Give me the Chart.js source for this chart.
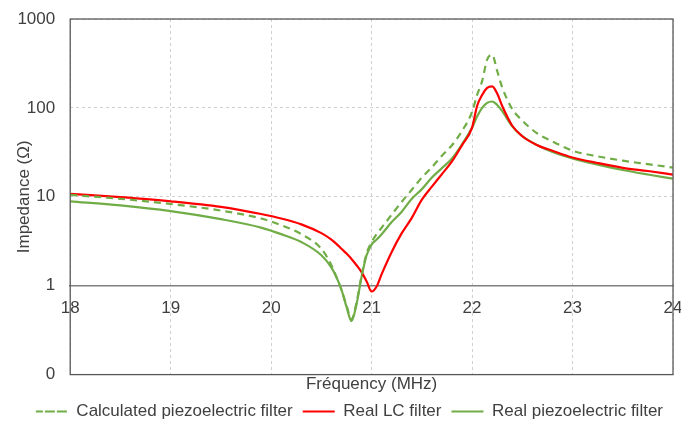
<!DOCTYPE html>
<html>
<head>
<meta charset="utf-8">
<script src="https://cdn.jsdelivr.net/npm/chart.js@4/dist/chart.umd.min.js"></script>
<style>
  html, body { margin: 0; padding: 0; background: #fff; }
  #wrap { width: 681px; height: 423px; }
</style>
</head>
<body>
<div id="wrap"><canvas id="impedanceChart"></canvas></div>
<script>
// Frequency points (MHz) shared by the three curves
const freq = [18, 18.5, 19, 19.5, 19.9, 20.1, 20.3, 20.5, 20.6, 20.65, 20.7, 20.75, 20.8, 20.85, 20.9, 20.95,
  21, 21.05, 21.1, 21.2, 21.3, 21.4, 21.5, 21.6, 21.7, 21.8, 21.9, 22, 22.05, 22.1, 22.15, 22.2, 22.25,
  22.3, 22.4, 22.5, 22.65, 22.8, 23, 23.25, 23.5, 23.75, 24];

// Impedance (ohm)
const calcPiezo = [10.5, 9.5, 8.3, 7.0, 5.7, 4.8, 3.8, 2.6, 1.7, 1.25, 0.9, 0.6, 0.42, 0.65, 1.3, 2.3,
  3.1, 3.8, 4.5, 6.3, 8.8, 12, 16.5, 21.5, 29, 38, 55, 90, 140, 200, 350, 395, 260,
  170, 97, 72, 51.5, 42, 33, 28.5, 25.5, 23.3, 21.3];
const realLC = [10.8, 9.9, 8.9, 7.7, 6.4, 5.7, 4.9, 3.9, 3.3, 2.95, 2.6, 2.3, 2.0, 1.7, 1.42, 1.12,
  0.86, 0.98, 1.35, 2.4, 3.9, 5.8, 9.3, 13, 18, 25, 38, 60, 105, 140, 168, 175, 145,
  105, 63, 48, 38, 33, 27.7, 24, 21.2, 19.5, 17.8];
const realPiezo = [8.9, 8.0, 6.9, 5.6, 4.5, 3.8, 3.1, 2.2, 1.6, 1.25, 0.9, 0.58, 0.4, 0.62, 1.25, 2.2,
  2.9, 3.3, 3.8, 5.2, 6.8, 9.5, 12.2, 16.5, 21, 27, 39, 60, 80, 100, 114, 118, 108,
  92, 62, 48, 38, 32, 27, 23, 20, 17.8, 16];

const yTicks = [0.1, 1, 10, 100, 1000];

function toPoints(values) {
    return freq.map((f, i) => ({ x: f, y: values[i] }));
}

const textColor = '#404040';
const font = { family: '"Liberation Sans", Arial, sans-serif', size: 17 };

// plot frame around the chart area
const frame = {
    id: 'frame',
    afterDatasetsDraw(chart) {
        const a = chart.chartArea;
        const c = chart.ctx;
        c.save();
        c.strokeStyle = '#595959';
        c.lineWidth = 1.3;
        c.strokeRect(a.left, a.top, a.right - a.left, a.bottom - a.top);
        c.restore();
    }
};

new Chart(document.getElementById('impedanceChart'), {
    type: 'line',
    data: {
        datasets: [
            {
                label: 'Calculated piezoelectric filter',
                data: toPoints(calcPiezo),
                borderColor: '#70AD47',
                backgroundColor: '#70AD47',
                borderWidth: 2.2,
                borderDash: [7, 5],
                pointRadius: 0,
                cubicInterpolationMode: 'monotone'
            },
            {
                label: 'Real LC filter',
                data: toPoints(realLC),
                borderColor: '#FF0000',
                backgroundColor: '#FF0000',
                borderWidth: 2.2,
                pointRadius: 0,
                cubicInterpolationMode: 'monotone'
            },
            {
                label: 'Real piezoelectric filter',
                data: toPoints(realPiezo),
                borderColor: '#70AD47',
                backgroundColor: '#70AD47',
                borderWidth: 2.2,
                pointRadius: 0,
                cubicInterpolationMode: 'monotone'
            }
        ]
    },
    options: {
        responsive: true,
        maintainAspectRatio: false,
        animation: false,
        layout: { padding: { top: 19, right: 8, left: 0, bottom: -7 } },
        plugins: {
            legend: {
                position: 'bottom',
                align: 'end',
                labels: {
                    boxWidth: 32,
                    boxHeight: 0,
                    padding: 10,
                    color: textColor,
                    font: font
                }
            },
            tooltip: { enabled: false }
        },
        scales: {
            x: {
                type: 'linear',
                min: 18,
                max: 24,
                ticks: { display: false, stepSize: 1 },
                grid: { color: '#d0d0d0', drawTicks: false },
                border: { display: false, dash: [3, 3] },
                title: { display: true, text: 'Fréquency (MHz)', color: textColor, font: font, padding: { top: 0, bottom: -2 } }
            },
            x2: {
                type: 'linear',
                axis: 'x',
                position: { y: 1 },
                min: 18,
                max: 24,
                afterFit: function(scale) {
                    scale.paddingLeft = 0;
                    scale.paddingRight = 0;
                },
                ticks: { stepSize: 1, color: textColor, font: font, padding: 12, maxRotation: 0 },
                grid: { display: false, drawTicks: false },
                border: { display: true, color: '#808080', width: 1.5 }
            },
            y: {
                type: 'logarithmic',
                min: 0.1,
                max: 1000,
                afterBuildTicks: function(scale) {
                    scale.ticks = yTicks.map(v => ({ value: v }));
                },
                afterFit: function(scale) {
                    scale.paddingTop = 0;
                    scale.paddingBottom = 0;
                },
                ticks: {
                    color: textColor,
                    font: font,
                    padding: 15,
                    callback: function(value) {
                        return value < 1 ? '0' : String(value);
                    }
                },
                grid: { color: '#d0d0d0', drawTicks: false },
                border: { display: false, dash: [3, 3] },
                title: { display: true, text: 'Impedance (Ω)', color: textColor, font: font, padding: { top: 14, bottom: -32 } }
            }
        }
    },
    plugins: [frame]
});
</script>
</body>
</html>
